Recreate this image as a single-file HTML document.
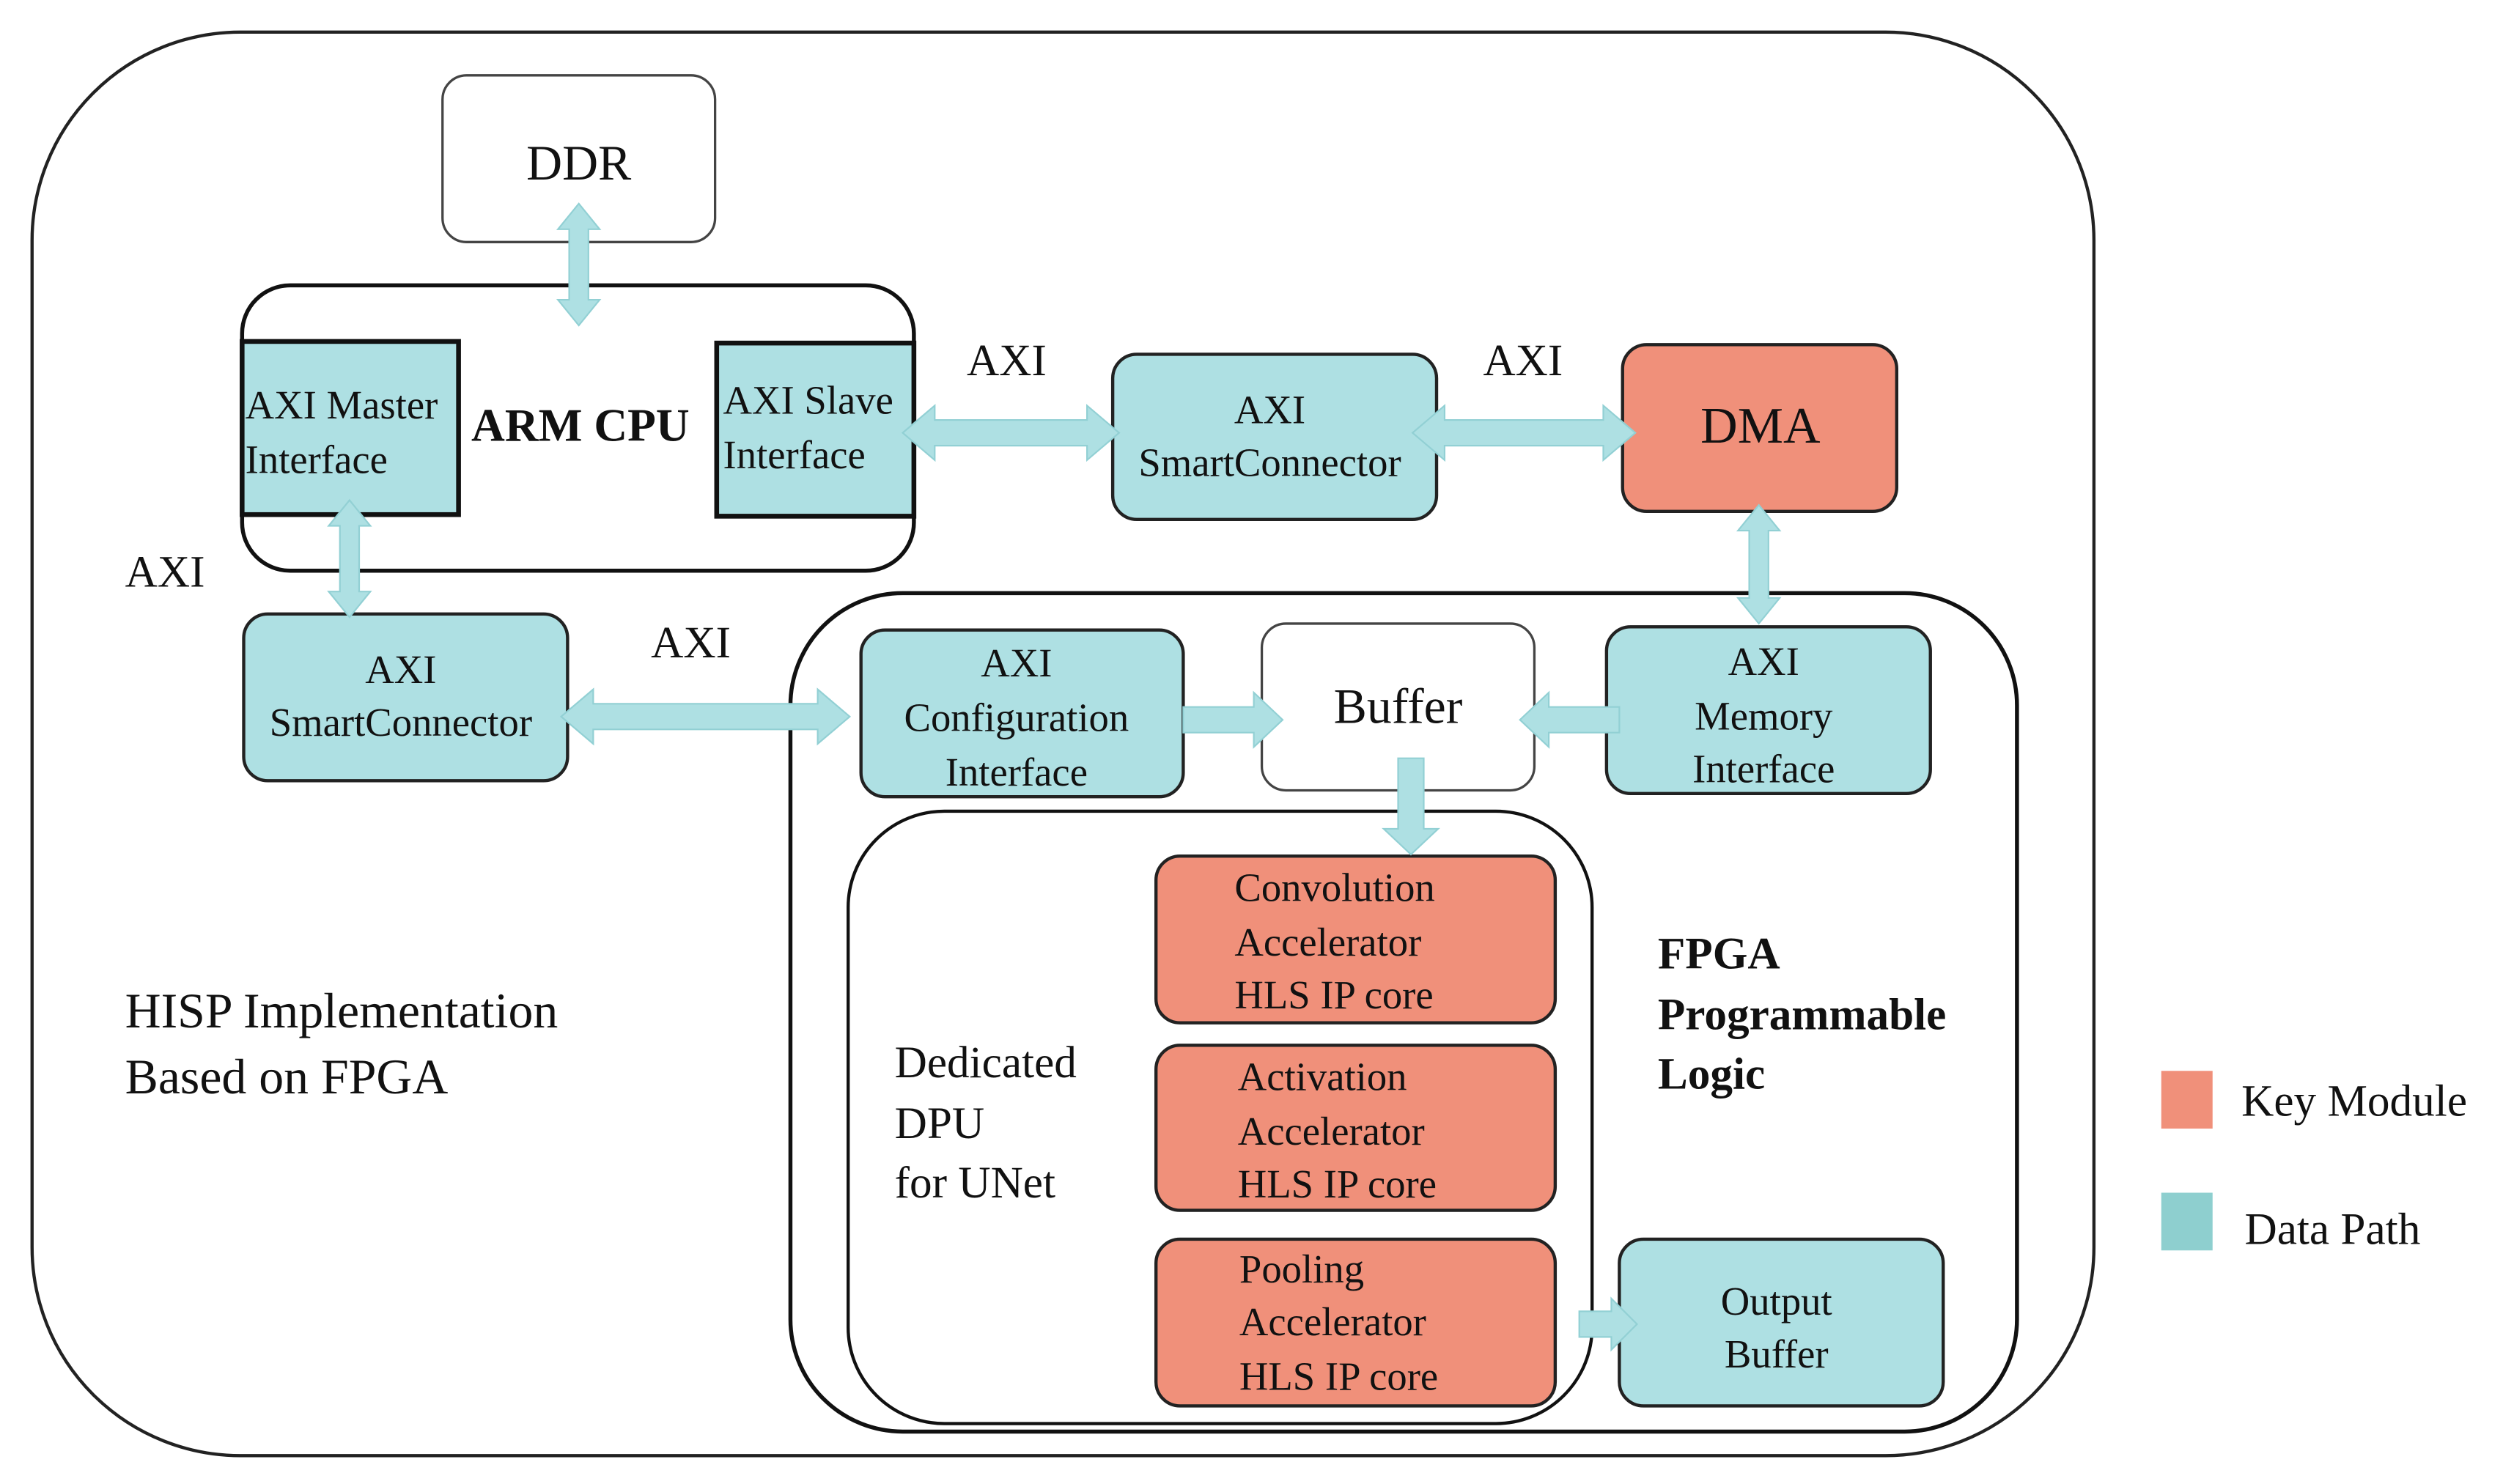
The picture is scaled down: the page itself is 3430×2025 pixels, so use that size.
<!DOCTYPE html>
<html><head><meta charset="utf-8"><style>
html,body{margin:0;padding:0;background:#fff;font-family:"Liberation Serif","DejaVu Serif","Times New Roman",serif;}
svg{display:block;}
svg text{font-family:"Liberation Serif","DejaVu Serif","Times New Roman",serif !important;fill:#111;}
</style></head><body>
<svg width="3430" height="2025" viewBox="0 0 1568 925.7" preserveAspectRatio="none" xmlns="http://www.w3.org/2000/svg" font-family="Liberation Serif, DejaVu Serif, serif">
<rect x="0" y="0" width="1568" height="926" fill="#fff"/>
<rect x="20" y="20" width="1286" height="888" rx="130" fill="none" stroke="#222" stroke-width="2"/>
<rect x="276" y="47" width="170" height="104" rx="15" fill="#fff" stroke="#444" stroke-width="1.5"/>
<text x="361" y="112" font-size="31" text-anchor="middle">DDR</text>
<rect x="151" y="178" width="419" height="178" rx="30" fill="#fff" stroke="#111" stroke-width="2.5"/>
<rect x="151" y="213" width="135" height="108" fill="#aee0e3" stroke="#111" stroke-width="3"/>
<rect x="447" y="214" width="123" height="108" fill="#aee0e3" stroke="#111" stroke-width="3"/>
<text x="153" y="261" font-size="25">AXI Master</text>
<text x="153" y="295" font-size="25">Interface</text>
<text x="451" y="258" font-size="25">AXI Slave</text>
<text x="451" y="292" font-size="25">Interface</text>
<text x="362" y="275" font-size="29" font-weight="bold" text-anchor="middle">ARM CPU</text>
<rect x="694" y="221" width="202" height="103" rx="15" fill="#aee0e3" stroke="#222" stroke-width="2"/>
<text x="792" y="264" font-size="25" text-anchor="middle">AXI</text>
<text x="792" y="297" font-size="25" text-anchor="middle">SmartConnector</text>
<rect x="1012" y="215" width="171" height="104" rx="15" fill="#f0907a" stroke="#222" stroke-width="2"/>
<text x="1098" y="276" font-size="32" text-anchor="middle">DMA</text>
<rect x="152" y="383" width="202" height="104" rx="15" fill="#aee0e3" stroke="#222" stroke-width="2"/>
<text x="250" y="426" font-size="25" text-anchor="middle">AXI</text>
<text x="250" y="459" font-size="25" text-anchor="middle">SmartConnector</text>
<rect x="493" y="370" width="765" height="523" rx="70" fill="none" stroke="#111" stroke-width="2.5"/>
<rect x="537" y="393" width="201" height="104" rx="15" fill="#aee0e3" stroke="#222" stroke-width="2"/>
<text x="634" y="422" font-size="25" text-anchor="middle">AXI</text>
<text x="634" y="456" font-size="25" text-anchor="middle">Configuration</text>
<text x="634" y="490" font-size="25" text-anchor="middle">Interface</text>
<rect x="787" y="389" width="170" height="104" rx="15" fill="#fff" stroke="#444" stroke-width="1.5"/>
<text x="872" y="451" font-size="31" text-anchor="middle">Buffer</text>
<rect x="1002" y="391" width="202" height="104" rx="15" fill="#aee0e3" stroke="#222" stroke-width="2"/>
<text x="1100" y="421" font-size="25" text-anchor="middle">AXI</text>
<text x="1100" y="455" font-size="25" text-anchor="middle">Memory</text>
<text x="1100" y="488" font-size="25" text-anchor="middle">Interface</text>
<rect x="529" y="506" width="464" height="382" rx="60" fill="none" stroke="#111" stroke-width="2"/>
<text x="558" y="672" font-size="28">Dedicated</text>
<text x="558" y="710" font-size="28">DPU</text>
<text x="558" y="747" font-size="28">for UNet</text>
<rect x="721" y="534" width="249" height="104" rx="15" fill="#f0907a" stroke="#222" stroke-width="2"/>
<text x="770" y="562" font-size="25">Convolution</text>
<text x="770" y="596" font-size="25">Accelerator</text>
<text x="770" y="629" font-size="25">HLS IP core</text>
<rect x="721" y="652" width="249" height="103" rx="15" fill="#f0907a" stroke="#222" stroke-width="2"/>
<text x="772" y="680" font-size="25">Activation</text>
<text x="772" y="714" font-size="25">Accelerator</text>
<text x="772" y="747" font-size="25">HLS IP core</text>
<rect x="721" y="773" width="249" height="104" rx="15" fill="#f0907a" stroke="#222" stroke-width="2"/>
<text x="773" y="800" font-size="25">Pooling</text>
<text x="773" y="833" font-size="25">Accelerator</text>
<text x="773" y="867" font-size="25">HLS IP core</text>
<rect x="1010" y="773" width="202" height="104" rx="15" fill="#aee0e3" stroke="#222" stroke-width="2"/>
<text x="1108" y="820" font-size="25" text-anchor="middle">Output</text>
<text x="1108" y="853" font-size="25" text-anchor="middle">Buffer</text>
<text x="1034" y="604" font-size="28" font-weight="bold">FPGA</text>
<text x="1034" y="642" font-size="28" font-weight="bold">Programmable</text>
<text x="1034" y="679" font-size="28" font-weight="bold">Logic</text>
<text x="603" y="234" font-size="28">AXI</text>
<text x="925" y="234" font-size="28">AXI</text>
<text x="78" y="366" font-size="28">AXI</text>
<text x="406" y="410" font-size="28">AXI</text>
<text x="78" y="641" font-size="31">HISP Implementation</text>
<text x="78" y="682" font-size="31">Based on FPGA</text>
<rect x="1348" y="668" width="32" height="36" fill="#f0907a"/>
<text x="1398" y="696" font-size="28">Key Module</text>
<rect x="1348" y="744" width="32" height="36" fill="#8ecfcf"/>
<text x="1400" y="776" font-size="28">Data Path</text>
<g fill="#aee0e3" stroke="#92d0d4" stroke-width="1">
<polygon points="361,127 374,143 367,143 367,187 374,187 361,203 348,187 355,187 355,143 348,143"/>
<polygon points="218,312 231,328 224,328 224,369 231,369 218,385 205,369 212,369 212,328 205,328"/>
<polygon points="1097,315 1110,331 1103,331 1103,373 1110,373 1097,389 1084,373 1091,373 1091,331 1084,331"/>
<polygon points="563,270 583,253 583,262 678,262 678,253 698,270 678,287 678,278 583,278 583,287"/>
<polygon points="881,270 901,253 901,262 1000,262 1000,253 1020,270 1000,287 1000,278 901,278 901,287"/>
<polygon points="350,447 370,430 370,439 510,439 510,430 530,447 510,464 510,455 370,455 370,464"/>
<polygon points="738,441 782,441 782,432 800,449 782,466 782,457 738,457"/>
<polygon points="1010,441 966,441 966,432 948,449 966,466 966,457 1010,457"/>
<polygon points="872,473 888,473 888,517 897,517 880,533 863,517 872,517"/>
<polygon points="985,818 1005,818 1005,810 1021,826 1005,842 1005,834 985,834"/>
</g>
</svg>
</body></html>
